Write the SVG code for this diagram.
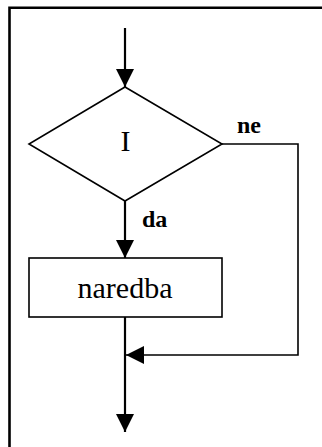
<svg xmlns="http://www.w3.org/2000/svg" width="322" height="447" viewBox="0 0 322 447">
  <style>
    .shape { fill: #fff; stroke: #000; stroke-width: 1.6; }
    .flow { fill: none; stroke: #000; stroke-width: 2.2; }
    .loop { fill: none; stroke: #000; stroke-width: 1.6; }
    .txt { font-family: "Liberation Serif", "Times New Roman", serif; fill: #000; }
    .lbl { font-family: "Liberation Serif", "Times New Roman", serif; font-weight: bold; font-size: 24px; fill: #000; }
  </style>
  <defs>
    <marker id="head" markerUnits="userSpaceOnUse" markerWidth="18" markerHeight="18" viewBox="0 0 16 16" refX="16" refY="8" orient="auto">
      <path d="M0,0 L16,8 L0,16 Z" fill="#000"/>
    </marker>
  </defs>
  <rect width="322" height="447" fill="#fff"/>
  <!-- frame -->
  <path d="M9.5,447 V7.8 H322" fill="none" stroke="#000" stroke-width="2.6"/>

  <g id="connectors">
    <line class="flow" x1="125" y1="28" x2="125" y2="87" marker-end="url(#head)"/>
    <line class="flow" x1="125" y1="201" x2="125" y2="258" marker-end="url(#head)"/>
    <line class="flow" x1="125" y1="317" x2="125" y2="432" marker-end="url(#head)"/>
    <polyline class="loop" points="222,144 298,144 298,355 126,355" marker-end="url(#head)"/>
    <text class="lbl" x="237" y="133">ne</text>
    <text class="lbl" x="142" y="227">da</text>
  </g>

  <g id="condition">
    <polygon class="shape" points="125,87 222,144 125,201 29,144"/>
    <text class="txt" x="125.5" y="151" font-size="30" text-anchor="middle">I</text>
  </g>

  <g id="statement">
    <rect class="shape" x="29" y="258" width="193" height="59"/>
    <text class="txt" x="125" y="298" font-size="30" text-anchor="middle">naredba</text>
  </g>
</svg>
